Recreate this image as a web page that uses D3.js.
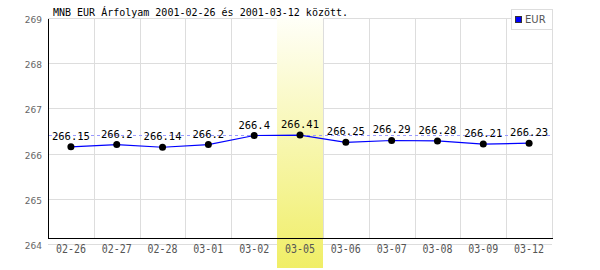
<!DOCTYPE html>
<html>
<head>
<meta charset="utf-8">
<script src="https://cdn.jsdelivr.net/npm/d3@7"></script>
<style>
  body { margin: 0; background: #fff; }
</style>
</head>
<body>
<svg id="chart"></svg>
<script>
/* Data */
const dates = ["02-26", "02-27", "02-28", "03-01", "03-02", "03-05", "03-06", "03-07", "03-08", "03-09", "03-12"];
const rates = [266.15, 266.2, 266.14, 266.2, 266.4, 266.41, 266.25, 266.29, 266.28, 266.21, 266.23];
const yTicks = [264, 265, 266, 267, 268, 269];
const highlightDate = "03-05";
const seriesName = "EUR";
const title = "MNB EUR Árfolyam 2001-02-26 és 2001-03-12 között.";

/* Size */
const width = 600, height = 270;
const plotLeft = 48, plotRight = 552, plotTop = 18, plotBottom = 244;
const frameBottom = 238;

const svg = d3.select("#chart")
    .attr("width", width)
    .attr("height", height);

/* Scales */
const x = d3.scaleBand()
    .domain(dates)
    .range([plotLeft, plotRight]);

const y = d3.scaleLinear()
    .domain([264, 269])
    .range([plotBottom, plotTop]);

/* Highlight gradient */
const grad = svg.append("defs").append("linearGradient")
    .attr("id", "hl")
    .attr("x1", 0).attr("y1", 0).attr("x2", 0).attr("y2", 1);
grad.append("stop").attr("offset", "0%").attr("stop-color", "#fffff8");
grad.append("stop").attr("offset", "100%").attr("stop-color", "#f0ee66");

/* Grid */
svg.append("g")
    .selectAll("line")
    .data(yTicks)
    .join("line")
      .attr("x1", plotLeft)
      .attr("x2", plotRight)
      .attr("y1", d => Math.round(y(d)) + 0.5)
      .attr("y2", d => Math.round(y(d)) + 0.5)
      .attr("stroke", "#dddddd");

svg.append("g")
    .selectAll("line")
    .data(dates)
    .join("line")
      .attr("x1", d => Math.round(x(d) + x.step()) + 0.5)
      .attr("x2", d => Math.round(x(d) + x.step()) + 0.5)
      .attr("y1", plotTop)
      .attr("y2", frameBottom)
      .attr("stroke", "#dddddd");

/* Highlight band */
svg.append("rect")
    .attr("x", Math.round(x(highlightDate)))
    .attr("y", plotTop)
    .attr("width", Math.round(x.bandwidth()))
    .attr("height", height - plotTop - 2)
    .attr("fill", "url(#hl)");

/* Frame */
svg.append("line")
    .attr("x1", plotLeft + 0.5).attr("x2", plotLeft + 0.5)
    .attr("y1", plotTop + 1).attr("y2", frameBottom + 1)
    .attr("stroke", "#000");
svg.append("line")
    .attr("x1", plotLeft).attr("x2", plotRight + 1)
    .attr("y1", frameBottom + 0.5).attr("y2", frameBottom + 0.5)
    .attr("stroke", "#000");

/* Y labels */
svg.append("g")
    .selectAll("text")
    .data(yTicks)
    .join("text")
      .attr("x", 42)
      .attr("y", d => y(d) + 5)
      .attr("text-anchor", "end")
      .style("font-family", "DejaVu Sans, Verdana, sans-serif")
      .style("font-size", "9px")
      .attr("fill", "#666")
      .text(d => d);

/* X labels */
svg.append("g")
    .selectAll("text")
    .data(dates)
    .join("text")
      .attr("x", d => x(d) + x.bandwidth() / 2)
      .attr("y", 253)
      .attr("text-anchor", "middle")
      .attr("textLength", 30)
      .attr("lengthAdjust", "spacingAndGlyphs")
      .style("font-family", "DejaVu Sans Mono, monospace")
      .style("font-size", "12px")
      .attr("fill", "#555")
      .text(d => d);

/* Max line */
const maxRate = d3.max(rates);
svg.append("line")
    .attr("x1", plotLeft + 1)
    .attr("x2", plotRight)
    .attr("y1", Math.round(y(maxRate)) + 0.5)
    .attr("y2", Math.round(y(maxRate)) + 0.5)
    .attr("stroke", "#9999ff")
    .attr("stroke-dasharray", "3,3");

/* Series line */
const line = d3.line()
    .x((d, i) => x(dates[i]) + x.bandwidth() / 2)
    .y(d => y(d));

svg.append("path")
    .datum(rates)
    .attr("d", line)
    .attr("fill", "none")
    .attr("stroke", "#0000ff")
    .attr("stroke-width", 1.2);

/* Points */
svg.append("g")
    .selectAll("circle")
    .data(rates)
    .join("circle")
      .attr("cx", (d, i) => x(dates[i]) + x.bandwidth() / 2)
      .attr("cy", d => y(d))
      .attr("r", 3.5)
      .attr("fill", "#000");

/* Value labels */
svg.append("g")
    .selectAll("text")
    .data(rates)
    .join("text")
      .attr("x", (d, i) => x(dates[i]) + x.bandwidth() / 2)
      .attr("y", d => y(d) - 7)
      .attr("text-anchor", "middle")
      .style("font-family", "DejaVu Sans Mono, monospace")
      .style("font-size", "10.5px")
      .attr("fill", "#000")
      .text(d => d);

/* Title */
svg.append("text")
    .attr("x", 53)
    .attr("y", 16)
    .style("font-family", "DejaVu Sans Mono, monospace")
    .style("font-size", "10px")
    .attr("fill", "#000")
    .text(title);

/* Legend */
const legend = svg.append("g");
legend.append("rect")
    .attr("x", 511.5).attr("y", 9.5)
    .attr("width", 41).attr("height", 20)
    .attr("fill", "#fff")
    .attr("stroke", "#dddddd");
legend.append("rect")
    .attr("x", 515.5).attr("y", 16.5)
    .attr("width", 6).attr("height", 6)
    .attr("fill", "#0000ff")
    .attr("stroke", "#333");
legend.append("text")
    .attr("x", 525)
    .attr("y", 23)
    .style("font-family", "DejaVu Sans, Verdana, sans-serif")
    .style("font-size", "10px")
    .attr("fill", "#555")
    .text(seriesName);
</script>
</body>
</html>
